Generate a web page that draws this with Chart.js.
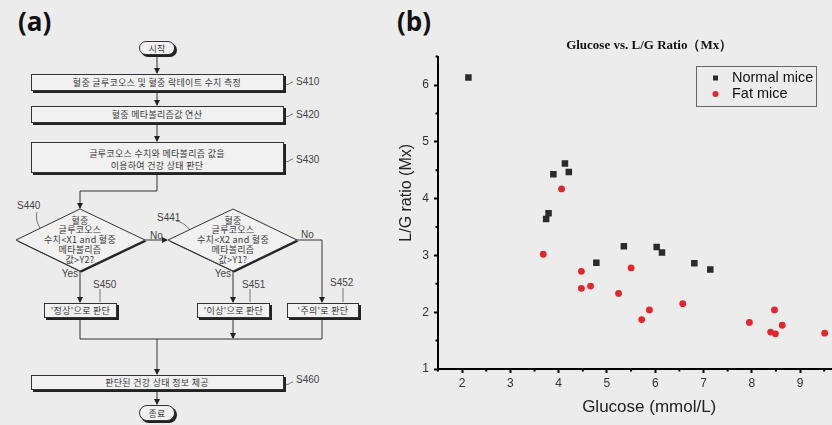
<!DOCTYPE html>
<html>
<head>
<meta charset="utf-8">
<script src="https://cdn.jsdelivr.net/npm/chart.js@4.4.1/dist/chart.umd.min.js"></script>
<style>
  html, body { margin: 0; padding: 0; background: #ececec; }
  #page { position: relative; width: 832px; height: 425px; overflow: hidden; background: #ececec; }
  .panel { position: absolute; top: 3px; font: bold 26px "Open Sans", sans-serif; color: #111; }
  #flow { position: absolute; left: 0; top: 0; }
  #flow text { font-family: "Noto Sans CJK KR", sans-serif; font-size: 9px; fill: #3a3a3a; letter-spacing: 0.3px; }
  #flow text.lbl { font-family: "Liberation Sans", Arial, sans-serif; font-size: 10px; fill: #444; letter-spacing: 0; }
  #chartBox { position: absolute; left: 390px; top: 0; }
</style>
</head>
<body>
<div id="page">
  <div class="panel" style="left:18px">(a)</div>
  <div class="panel" style="left:397px">(b)</div>

  <svg id="flow" width="420" height="425" xmlns="http://www.w3.org/2000/svg">
    <defs>
      <marker id="ah" markerWidth="6" markerHeight="6" refX="5" refY="3" orient="auto" markerUnits="userSpaceOnUse">
        <path d="M0,0 L6,3 L0,6 z" fill="#222"/>
      </marker>
    </defs>
    <g stroke="#333" stroke-width="1" fill="none">
      <!-- connectors -->
      <line x1="157" y1="56" x2="157" y2="73" marker-end="url(#ah)"/>
      <line x1="157" y1="91" x2="157" y2="105" marker-end="url(#ah)"/>
      <line x1="157" y1="123" x2="157" y2="141" marker-end="url(#ah)"/>
      <polyline points="157,173 157,191 80,191 80,208" marker-end="url(#ah)"/>
      <line x1="145" y1="240" x2="167" y2="240" marker-end="url(#ah)"/>
      <polyline points="297,240 322,240 322,302" marker-end="url(#ah)"/>
      <line x1="80" y1="271" x2="80" y2="302" marker-end="url(#ah)"/>
      <line x1="233" y1="271" x2="233" y2="302" marker-end="url(#ah)"/>
      <polyline points="80,319 80,339 322,339 322,319"/>
      <line x1="233" y1="319" x2="233" y2="338" marker-end="url(#ah)"/>
      <line x1="157" y1="339" x2="157" y2="374" marker-end="url(#ah)"/>
      <line x1="157" y1="391" x2="157" y2="404" marker-end="url(#ah)"/>
      <!-- label squiggles -->
      <path d="M285,83 q2,3 4,1 t4,-2" stroke="#777"/>
      <path d="M285,115 q2,3 4,1 t4,-2" stroke="#777"/>
      <path d="M285,160 q2,3 4,1 t4,-2" stroke="#777"/>
      <path d="M285,383 q2,3 4,1 t4,-2" stroke="#777"/>
      <path d="M37,212 q-2,8 3,16" stroke="#777"/>
      <path d="M176,221 q8,1 14,9" stroke="#777"/>
      <path d="M100,289 l0,13" stroke="#777"/>
      <path d="M250,289 l0,13" stroke="#777"/>
      <path d="M343,288 l0,14" stroke="#777"/>
    </g>

    <!-- shadows -->
    <g fill="#222">
      <rect x="141" y="43" width="36" height="14" rx="7"/>
      <rect x="33" y="76" width="253" height="17"/>
      <rect x="33" y="108" width="253" height="17"/>
      <rect x="33" y="144" width="253" height="31"/>
      <polygon points="81.5,210.5 146.5,241.5 81.5,272.5 17.5,241.5"/>
      <polygon points="234.5,210.5 298.5,241.5 234.5,272.5 169.5,241.5"/>
      <rect x="46" y="305" width="73" height="15"/>
      <rect x="199" y="305" width="73" height="15"/>
      <rect x="289" y="305" width="72" height="15"/>
      <rect x="33" y="377" width="253" height="15"/>
      <rect x="141" y="407" width="36" height="16" rx="8"/>
    </g>
    <!-- shapes -->
    <g fill="#f1f1f1" stroke="#333" stroke-width="1">
      <rect x="139.5" y="41.5" width="35" height="13" rx="6.5"/>
      <rect x="31.5" y="74.5" width="252" height="16"/>
      <rect x="31.5" y="106.5" width="252" height="16"/>
      <rect x="31.5" y="142.5" width="252" height="30"/>
      <polygon points="80,209 145,240 80,271 16,240"/>
      <polygon points="233,209 297,240 233,271 168,240"/>
      <rect x="44.5" y="303.5" width="72" height="14"/>
      <rect x="197.5" y="303.5" width="72" height="14"/>
      <rect x="287.5" y="303.5" width="71" height="14"/>
      <rect x="31.5" y="375.5" width="252" height="14"/>
      <rect x="139.5" y="405.5" width="35" height="15" rx="7.5"/>
    </g>

    <g text-anchor="middle" dominant-baseline="central">
      <text x="157" y="48">시작</text>
      <text x="157" y="82.5">혈중 글루코오스 및 혈중 락테이트 수치 측정</text>
      <text x="157" y="114.5">혈중 메타볼리즘값 연산</text>
      <text x="157" y="153">글루코오스 수치와 메타볼리즘 값을</text>
      <text x="157" y="165">이용하여 건강 상태 판단</text>
      <text x="80" y="220">혈중</text>
      <text x="80" y="229.5">글루코오스</text>
      <text x="80" y="239.5">수치&lt;X1 and 혈중</text>
      <text x="80" y="249.5">메타볼리즘</text>
      <text x="80" y="259">값&gt;Y2?</text>
      <text x="233" y="220">혈중</text>
      <text x="233" y="229.5">글루코오스</text>
      <text x="233" y="239.5">수치&lt;X2 and 혈중</text>
      <text x="233" y="249.5">메타볼리즘</text>
      <text x="233" y="259">값&gt;Y1?</text>
      <text x="80.5" y="310.5">'정상'으로 판단</text>
      <text x="233.5" y="310.5">'이상'으로 판단</text>
      <text x="323" y="310.5">'주의'로 판단</text>
      <text x="157" y="382.5">판단된 건강 상태 정보 제공</text>
      <text x="157" y="413">종료</text>
    </g>
    <g dominant-baseline="central">
      <text class="lbl" x="296" y="81">S410</text>
      <text class="lbl" x="296" y="114">S420</text>
      <text class="lbl" x="296" y="159">S430</text>
      <text class="lbl" x="296" y="379">S460</text>
      <text class="lbl" x="17" y="205">S440</text>
      <text class="lbl" x="157" y="217">S441</text>
      <text class="lbl" x="93" y="284">S450</text>
      <text class="lbl" x="242" y="284">S451</text>
      <text class="lbl" x="330" y="282">S452</text>
      <text class="lbl" x="150" y="235">No</text>
      <text class="lbl" x="301" y="234">No</text>
      <text class="lbl" x="78" y="273" text-anchor="end">Yes</text>
      <text class="lbl" x="231" y="273" text-anchor="end">Yes</text>
    </g>
  </svg>

  <div id="chartBox"><canvas id="scatter" width="475" height="425"></canvas></div>
</div>

<script>
// values
const normalGlucose = [2.13, 3.74, 3.79, 3.89, 4.13, 4.21, 4.78, 5.35, 6.03, 6.14, 6.81, 7.14];
const normalRatio   = [6.13, 3.64, 3.74, 4.43, 4.62, 4.47, 2.87, 3.16, 3.15, 3.05, 2.86, 2.75];
const fatGlucose = [3.68, 4.06, 4.47, 4.47, 4.66, 5.24, 5.50, 5.72, 5.88, 6.57, 7.95, 8.39, 8.47, 8.49, 8.63, 9.51];
const fatRatio   = [3.02, 4.17, 2.72, 2.42, 2.46, 2.33, 2.78, 1.87, 2.04, 2.15, 1.82, 1.65, 2.04, 1.62, 1.77, 1.63];
const seriesNames = ["Normal mice", "Fat mice"];

const xRange = [1.5, 10.25];
const yRange = [1, 6.5];

function toPoints(xs, ys) {
    return xs.map((x, i) => ({x: x, y: ys[i]}));
}

const sansFont = "'Liberation Sans', Arial, sans-serif";

// short minor ticks at the half steps
const minorTicks = {
    id: 'minorTicks',
    afterDraw: (chart) => {
        const ctx = chart.ctx;
        const xs = chart.scales.x, ys = chart.scales.y;
        ctx.save();
        ctx.strokeStyle = '#000';
        ctx.lineWidth = 2;
        ctx.beginPath();
        xs.ticks.forEach(t => {
            if (Number.isInteger(t.value)) return;
            const px = xs.getPixelForValue(t.value);
            ctx.moveTo(px, xs.top);
            ctx.lineTo(px, xs.top + 2.5);
        });
        ys.ticks.forEach(t => {
            if (Number.isInteger(t.value)) return;
            const py = ys.getPixelForValue(t.value);
            ctx.moveTo(ys.right, py);
            ctx.lineTo(ys.right - 2.5, py);
        });
        ctx.stroke();
        ctx.restore();
    }
};

// boxed legend inside the plot, like the original
const boxLegend = {
    id: 'boxLegend',
    afterDraw: (chart) => {
        const ctx = chart.ctx;
        const bx = chart.chartArea.left + 258, by = 66, bw = 120, bh = 40;
        ctx.save();
        ctx.strokeStyle = '#666';
        ctx.lineWidth = 1;
        ctx.strokeRect(bx + 0.5, by + 0.5, bw, bh);
        chart.data.datasets.forEach((ds, i) => {
            const cy = by + 12 + i * 16;
            ctx.fillStyle = ds.backgroundColor;
            if (ds.pointStyle === 'rect') {
                ctx.fillRect(bx + 17, cy - 2.5, 5, 5);
            } else {
                ctx.beginPath();
                ctx.arc(bx + 19.5, cy, 3, 0, Math.PI * 2);
                ctx.fill();
            }
            ctx.fillStyle = '#111';
            ctx.font = "14.5px " + sansFont;
            ctx.textBaseline = 'middle';
            ctx.fillText(ds.label, bx + 36, cy);
        });
        ctx.restore();
    }
};

const tickMark = (c) => Number.isInteger(c.tick.value) ? '#000' : 'rgba(0,0,0,0)';
const intLabel = (v) => Number.isInteger(v) ? String(v) : '';

new Chart(document.getElementById("scatter"), {
    type: "scatter",
    data: {
        datasets: [
            {
                label: seriesNames[0],
                data: toPoints(normalGlucose, normalRatio),
                pointStyle: 'rect',
                pointRadius: 4.6,
                backgroundColor: '#2b2b2b',
                borderColor: '#2b2b2b',
                borderWidth: 0
            },
            {
                label: seriesNames[1],
                data: toPoints(fatGlucose, fatRatio),
                pointStyle: 'circle',
                pointRadius: 3.4,
                backgroundColor: '#e3262b',
                borderColor: '#e3262b',
                borderWidth: 0
            }
        ]
    },
    options: {
        responsive: false,
        animation: false,
        devicePixelRatio: 1,
        layout: { padding: 0 },
        plugins: {
            legend: { display: false },
            tooltip: { enabled: false },
            title: {
                display: true,
                fullSize: false,
                text: "Glucose vs. L/G Ratio（Mx）",
                color: '#111',
                font: { family: "'Liberation Serif', 'Times New Roman', serif", size: 13, weight: 'bold' },
                padding: { top: 38, bottom: 3 }
            }
        },
        scales: {
            x: {
                type: 'linear',
                min: xRange[0],
                max: xRange[1],
                afterFit: (s) => { s.height = 56; },
                border: { display: true, color: '#000', width: 2 },
                grid: { drawOnChartArea: false, tickLength: 4, tickWidth: 2, tickColor: tickMark },
                ticks: {
                    stepSize: 0.5,
                    autoSkip: false,
                    maxRotation: 0,
                    padding: 3,
                    color: '#333',
                    font: { family: sansFont, size: 12 },
                    callback: intLabel
                },
                title: {
                    display: true,
                    text: "Glucose (mmol/L)",
                    color: '#222',
                    font: { family: sansFont, size: 17 },
                    padding: { top: 0, bottom: 7 }
                }
            },
            y: {
                type: 'linear',
                min: yRange[0],
                max: yRange[1],
                afterFit: (s) => { s.width = 48; },
                border: { display: true, color: '#000', width: 2 },
                grid: { drawOnChartArea: false, tickLength: 4, tickWidth: 2, tickColor: tickMark },
                ticks: {
                    stepSize: 0.5,
                    autoSkip: false,
                    padding: 5,
                    color: '#333',
                    font: { family: sansFont, size: 12 },
                    callback: intLabel
                },
                title: {
                    display: true,
                    // leading spaces lift the label above the axis middle, as in the source
                    text: "\u00a0\u00a0\u00a0\u00a0\u00a0\u00a0\u00a0\u00a0\u00a0L/G ratio (Mx)",
                    color: '#222',
                    font: { family: sansFont, size: 16 },
                    padding: { top: 7, bottom: 0 }
                }
            }
        }
    },
    plugins: [minorTicks, boxLegend]
});
</script>
</body>
</html>
